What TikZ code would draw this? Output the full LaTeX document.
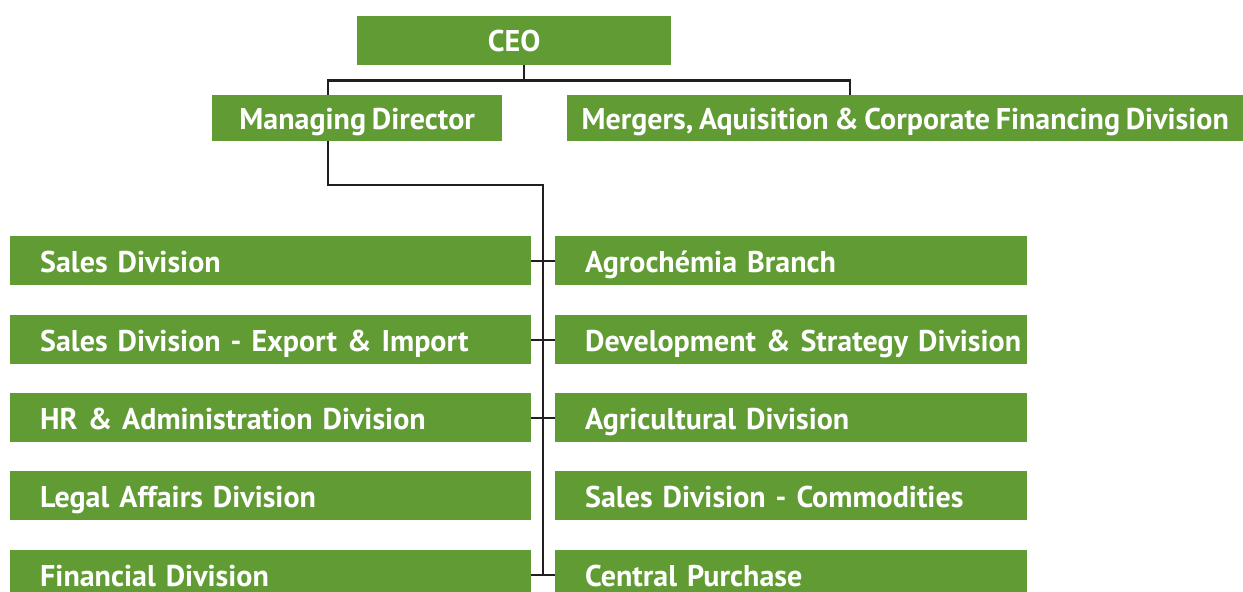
\documentclass[tikz,border=0pt]{standalone}
\usepackage{fontspec}
\setmainfont[WordSpace=0.75]{PT Sans}
\definecolor{boxgreen}{RGB}{97,155,51}
\definecolor{linecol}{RGB}{35,31,32}
\begin{document}
\begin{tikzpicture}[x=1pt,y=-1pt,
  box/.style={fill=boxgreen, text=white, font=\bfseries\fontsize{30}{32}\selectfont, inner sep=0pt, minimum height=49pt, text height=23.5pt, text depth=0pt},
  lbox/.style={box, anchor=north west, text width=521pt, align=left, execute at begin node={\hspace*{30pt}}},
  rbox/.style={box, anchor=north west, text width=472pt, align=left, execute at begin node={\hspace*{30pt}}},
  conn/.style={draw=linecol, line width=2.2pt}]
\useasboundingbox (0,0) rectangle (1243,592);
\clip (0,0) rectangle (1243,592);
\node[box, anchor=north west, minimum width=314pt, text height=21pt] (ceo) at (357,16) {CEO};
\node[box, anchor=north west, minimum width=290pt, minimum height=46pt] (md) at (212,95) {Managing Director};
\node[box, anchor=north west, minimum width=676pt, minimum height=46pt] (ma) at (567,95) {Mergers, Aquisition \& Corporate Financing Division};
\node[lbox] (l1) at (10,236) {Sales Division};
\node[lbox] (l2) at (10,315) {Sales Division - Export \& Import};
\node[lbox] (l3) at (10,393) {HR \& Administration Division};
\node[lbox] (l4) at (10,471) {Legal Affairs Division};
\node[lbox] (l5) at (10,550) {Financial Division};
\node[rbox] (r1) at (555,236) {Agrochémia Branch};
\node[rbox] (r2) at (555,315) {Development \& Strategy Division};
\node[rbox] (r3) at (555,393) {Agricultural Division};
\node[rbox] (r4) at (555,471) {Sales Division - Commodities};
\node[rbox] (r5) at (555,550) {Central Purchase};
\coordinate (j1) at (524,80.5);
\coordinate (j2) at (543,185);
\coordinate (j3) at (543,574);
\draw[conn] (ceo.south -| j1) -- (j1);
\draw[conn] (md.north -| 328,0) |- (j1) -| (ma.north -| 850,0);
\draw[conn] (md.south -| 328,0) |- (j2) -- (j3);
\draw[conn] (l1.east) -- (r1.west);
\draw[conn] (l2.east) -- (r2.west);
\draw[conn] (l3.east) -- (r3.west);
\draw[conn] (l5.east) -- (r5.west);
\end{tikzpicture}
\end{document}
